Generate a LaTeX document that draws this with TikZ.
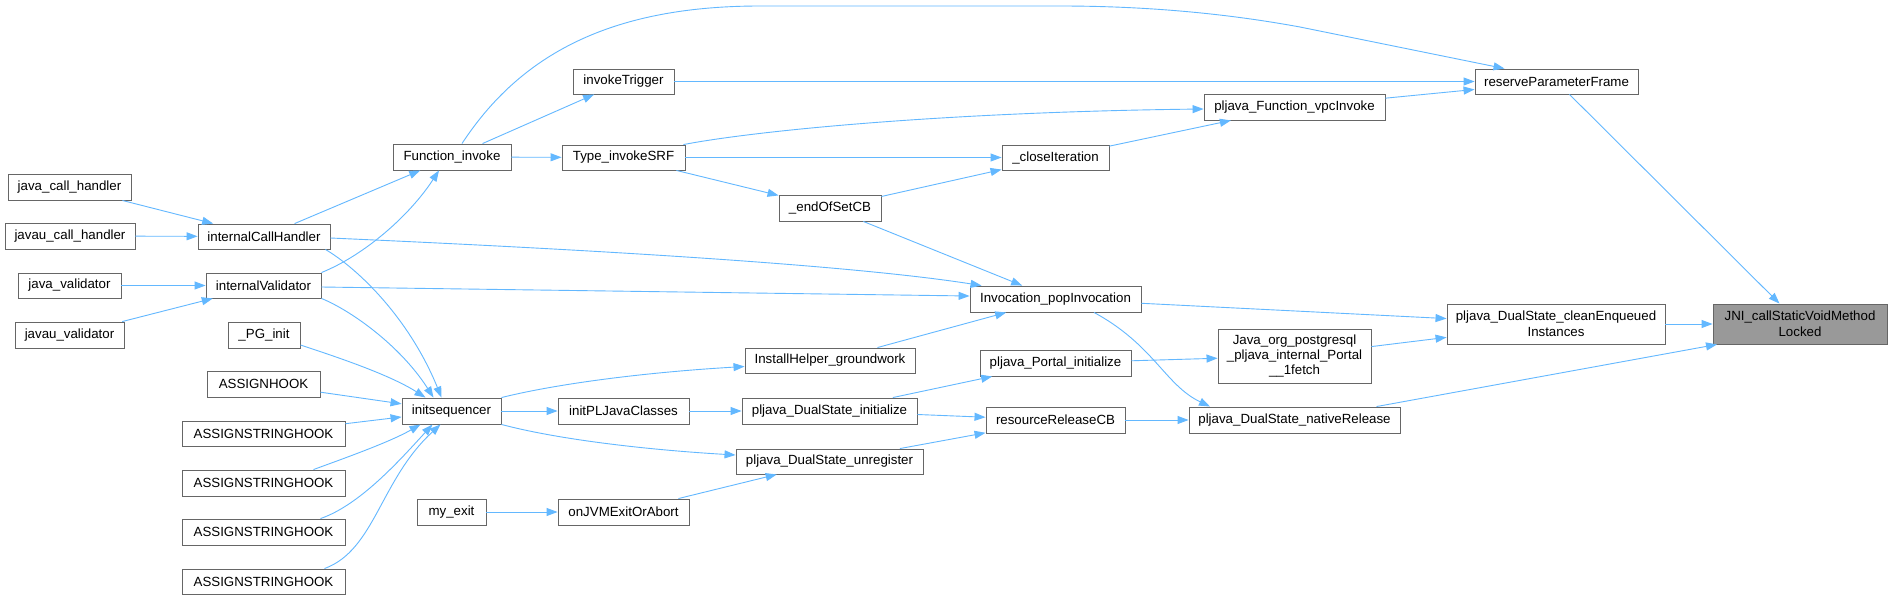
\documentclass[tikz,border=0pt]{standalone}
\usepackage{fontspec}
\setmainfont{Liberation Sans}
\usetikzlibrary{arrows.meta}
\definecolor{edgec}{HTML}{63B8FF}
\definecolor{boxline}{HTML}{666666}
\definecolor{jnifill}{HTML}{999999}
\tikzset{
  box/.style={draw=boxline, line width=0.9pt, fill=white, inner sep=0pt, align=center,
    font=\fontsize{13.3}{15}\selectfont, text=black},
  edge/.style={draw=edgec, line width=0.9pt, -{Triangle[length=11pt,width=8pt]}},
}
\newcommand\bx[7][]{\node[box,#1,minimum width={#5pt-#3pt},minimum height={#6pt-#4pt}] (#2) at ({(#3+#5)/2},{(#4+#6)/2}) {#7};}
\begin{document}
\begin{tikzpicture}[x=1pt,y=-1pt]
\fill[white] (0,0) rectangle (1892,600);
\useasboundingbox (0,0) rectangle (1892,600);
% nodes
\bx{jch}{8}{174}{131}{200}{java\_call\_handler}
\bx{jauch}{5}{223}{135}{249}{javau\_call\_handler}
\bx{ich}{198}{224}{330}{249}{internalCallHandler}
\bx{jv}{18}{273}{121}{298}{java\_validator}
\bx{iv}{206}{273}{321}{298}{internalValidator}
\bx{jauv}{15}{322}{124}{348}{javau\_validator}
\bx{pg}{228}{322}{300}{348}{\_PG\_init}
\bx{ah}{207}{371}{320}{397}{ASSIGNHOOK}
\bx{ash1}{182}{421}{345}{446}{ASSIGNSTRINGHOOK}
\bx{ash2}{182}{470}{345}{496}{ASSIGNSTRINGHOOK}
\bx{ash3}{182}{519}{345}{545}{ASSIGNSTRINGHOOK}
\bx{ash4}{182}{569}{345}{594}{ASSIGNSTRINGHOOK}
\bx{is}{402}{398}{501}{424}{initsequencer}
\bx{ipl}{558}{398}{689}{424}{initPLJavaClasses}
\bx{me}{417}{499}{486}{525}{my\_exit}
\bx{oj}{558}{499}{689}{525}{onJVMExitOrAbort}
\bx{fi}{393}{144}{511}{170}{Function\_invoke}
\bx{it}{573}{69}{674}{94}{invokeTrigger}
\bx{tis}{562}{145}{685}{170}{Type\_invokeSRF}
\bx{fvpc}{1204}{94}{1385}{120}{pljava\_Function\_vpcInvoke}
\bx{ci}{1002}{145}{1109}{170}{\_closeIteration}
\bx{eos}{779}{195}{881}{221}{\_endOfSetCB}
\bx{ipi}{970}{286}{1141}{312}{Invocation\_popInvocation}
\bx{ihg}{745}{348}{915}{373}{InstallHelper\_groundwork}
\bx{ppi}{980}{350}{1131}{376}{pljava\_Portal\_initialize}
\bx{jop}{1218}{329}{1371}{383}{Java\_org\_postgresql\\\_pljava\_internal\_Portal\\\_\_1fetch}
\bx{dsi}{742}{398}{917}{424}{pljava\_DualState\_initialize}
\bx{rrcb}{986}{407}{1125}{433}{resourceReleaseCB}
\bx{dsnr}{1189}{407}{1400}{433}{pljava\_DualState\_nativeRelease}
\bx{dsu}{736}{449}{923}{474}{pljava\_DualState\_unregister}
\bx{rpf}{1475}{69}{1638}{94}{reserveParameterFrame}
\bx[font=\fontsize{13.3}{16}\selectfont]{cei}{1447}{304}{1665}{344}{pljava\_DualState\_cleanEnqueued\\Instances}
\bx[fill=jnifill,font=\fontsize{13.3}{16}\selectfont]{jni}{1713}{304}{1887}{344}{JNI\_callStaticVoidMethod\\Locked}
% edges
\draw[edge] (jch) -- (ich);
\draw[edge] (jauch) -- (ich);
\draw[edge] (jv) -- (iv);
\draw[edge] (jauv) -- (iv);
\draw[edge] (ich) -- (fi);
\draw[edge] (iv.north east) .. controls (365,255) and (410,215) .. ([xshift=-13pt]fi.south);
\draw[edge] ([yshift=-1.5pt]ich.east) .. controls (600,250) and (850,265) .. ([xshift=12pt]ipi.north west);
\draw[edge] ([yshift=-1.5pt]iv.east) -- ([yshift=3pt]ipi.west);
\draw[edge] ([xshift=-5pt]ich.south east) .. controls (360,270) and (410,320) .. ([xshift=-10pt]is.north);
\draw[edge] (iv.south east) .. controls (350,310) and (400,345) .. ([xshift=-18pt]is.north);
\draw[edge] ([yshift=-10pt]pg.east) .. controls (340,358) and (390,375) .. ([xshift=-26pt]is.north);
\draw[edge] (ah) -- (is);
\draw[edge] (ash1) -- (is);
\draw[edge] ([xshift=50pt]ash2.north) .. controls (345,458) and (390,442) .. ([xshift=-31pt]is.south);
\draw[edge] ([xshift=57pt]ash3.north) .. controls (360,505) and (400,460) .. ([xshift=-19pt]is.south);
\draw[edge] ([xshift=61pt]ash4.north) .. controls (375,550) and (380,480) .. ([xshift=-11pt]is.south);
\draw[edge] (fi) -- (it);
\draw[edge] (fi) -- (tis);
\draw[edge] ([xshift=10pt]fi.north) .. controls (520,55) and (610,6) .. (760,6) -- (1060,6) .. controls (1160,6) and (1240,16) .. (1300,27) -- ([xshift=-52pt]rpf.north);
\draw[edge] (it) -- (rpf);
\draw[edge] (fvpc) -- (rpf);
\draw[edge] ([xshift=-2pt]tis.north east) .. controls (760,130) and (950,112) .. ([yshift=-2pt]fvpc.west);
\draw[edge] (tis) -- (ci);
\draw[edge] (tis) -- (eos);
\draw[edge] (eos) -- (ci);
\draw[edge] (ci) -- (fvpc);
\draw[edge] (eos) -- (ipi);
\draw[edge] (ihg) -- (ipi);
\draw[edge] (is.north east) .. controls (560,383) and (650,372) .. ([yshift=-6pt]ihg.west);
\draw[edge] (is) -- (ipl);
\draw[edge] (is.south east) .. controls (560,440) and (650,450) .. ([yshift=6.5pt]dsu.west);
\draw[edge] (ipl) -- (dsi);
\draw[edge] (me) -- (oj);
\draw[edge] (oj) -- (dsu);
\draw[edge] (dsi) -- (ppi);
\draw[edge] (dsi) -- (rrcb);
\draw[edge] (dsu) -- (rrcb);
\draw[edge] (rrcb) -- (dsnr);
\draw[edge] (ppi) -- (jop);
\draw[edge] ([xshift=38.5pt]ipi.south) .. controls (1154,345) and (1165,385) .. ([xshift=-84.5pt]dsnr.north);
\draw[edge] (ipi) -- (cei);
\draw[edge] (jop) -- (cei);
\draw[edge] (cei) -- (jni);
\draw[edge] ([xshift=82pt]dsnr.north) -- ([xshift=-83pt]jni.south);
\draw[edge] (rpf) -- (jni);
\end{tikzpicture}
\end{document}
